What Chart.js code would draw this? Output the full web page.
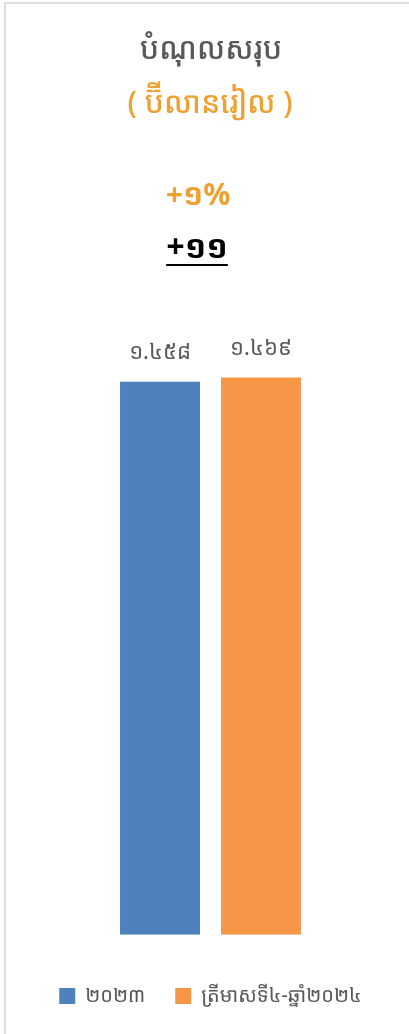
<!DOCTYPE html>
<html><head><meta charset="utf-8">
<script src="https://cdn.jsdelivr.net/npm/chart.js@4/dist/chart.umd.min.js"></script>
<style>
html,body{margin:0;padding:0;background:#fff;width:409px;height:1034px;overflow:hidden;}
#frame{position:absolute;left:4px;top:2px;width:420px;height:1100px;border-left:2px solid #dedede;border-top:2px solid #dedede;}
#wrap{position:absolute;left:0;top:0;width:409px;height:1034px;}
</style></head>
<body>
<div id="frame"></div>
<div id="wrap"><canvas id="c" width="409" height="1034"></canvas></div>
<script>
const categories = ['បំណុលសរុប'];
const seriesNames = ['២០២៣', 'ត្រីមាសទី៤-ឆ្នាំ២០២៤'];
const values2023 = [1458];
const valuesQ4_2024 = [1469];
const titleLines = ['បំណុលសរុប', '( ប៊ីលានរៀល )'];
const changeLines = ['+១%', '+១១'];
const colors = ['#4F81BD', '#F79646'];

const KH = ['០','១','២','៣','៤','៥','៦','៧','៨','៩'];
function toKhmer(n){
  const s = String(n).replace(/\B(?=(\d{3})+(?!\d))/g, '.');
  return s.replace(/\d/g, d => KH[+d]);
}
const FONT = "'Khmer OS', 'Khmer OS System', 'Noto Sans Khmer', 'Noto Serif Khmer', 'Noto Sans', sans-serif";

const textPlugin = {
  id: 'texts',
  afterDatasetsDraw(chart){
    const ctx = chart.ctx;
    ctx.save();
    ctx.textAlign = 'center';
    ctx.textBaseline = 'middle';
    // title
    ctx.fillStyle = '#595959';
    ctx.font = '500 30px ' + FONT;
    ctx.fillText(titleLines[0], 211, 50);
    ctx.fillStyle = '#F0A030';
    ctx.font = '500 30px ' + FONT;
    ctx.fillText(titleLines[1], 210, 104);
    // change
    ctx.fillStyle = '#F0A030';
    ctx.font = 'bold 30px ' + FONT;
    ctx.fillText(changeLines[0], 198, 196);
    ctx.fillStyle = '#000';
    ctx.font = 'bold 32px ' + FONT;
    ctx.fillText(changeLines[1], 197, 249);
    const w = ctx.measureText(changeLines[1]).width;
    ctx.fillRect(197 - w/2, 264, w, 2);
    // data labels
    ctx.fillStyle = '#595959';
    ctx.font = '22px ' + FONT;
    chart.data.datasets.forEach((ds, i) => {
      const meta = chart.getDatasetMeta(i);
      meta.data.forEach((bar, j) => {
        ctx.fillText(toKhmer(ds.data[j]), bar.x, bar.y - 29);
      });
    });
    ctx.restore();
  }
};

new Chart(document.getElementById('c'), {
  type: 'bar',
  data: {
    labels: categories,
    datasets: [
      {label: seriesNames[0], data: values2023, backgroundColor: colors[0]},
      {label: seriesNames[1], data: valuesQ4_2024, backgroundColor: colors[1]}
    ]
  },
  options: {
    responsive: false,
    animation: false,
    devicePixelRatio: 1,
    layout: {padding: {left: 20, right: 8, top: 290, bottom: 18}},
    datasets: {bar: {barPercentage: 0.792, categoryPercentage: 0.53}},
    scales: {
      x: {display: false},
      y: {display: false, min: 0, max: 1700}
    },
    plugins: {
      tooltip: {enabled: false},
      legend: {
        position: 'bottom',
        title: {display: true, text: '', font: {size: 1}, padding: {top: 20, bottom: 0}},
        labels: {boxWidth: 16, boxHeight: 16, padding: 30, color: '#595959', font: {size: 20, family: FONT}}
      }
    }
  },
  plugins: [textPlugin]
});
</script>
</body></html>
